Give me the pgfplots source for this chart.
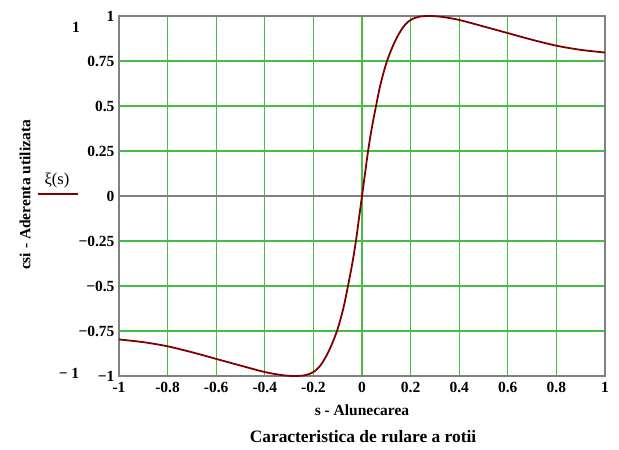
\documentclass[border=0pt]{standalone}
\usepackage{pgfplots}
\pgfplotsset{compat=1.18}
\usepackage{fontspec}
\setmainfont{Liberation Serif}
\definecolor{gridgreen}{RGB}{70,190,70}
\definecolor{framegray}{RGB}{128,128,128}
\definecolor{curvered}{RGB}{128,0,0}
\begin{document}
\begin{tikzpicture}
\useasboundingbox (0pt,0pt) rectangle (619pt,450pt);
\begin{axis}[
  at={(119pt,74pt)}, anchor=south west,
  scale only axis, width=486pt, height=360pt,
  xmin=-1, xmax=1, ymin=-1, ymax=1,
  xtick={-1,-0.8,-0.6,-0.4,-0.2,0,0.2,0.4,0.6,0.8,1},
  xticklabels={-1,-0.8,-0.6,-0.4,-0.2,0,0.2,0.4,0.6,0.8,1},
  ytick={-1,-0.75,-0.5,-0.25,0,0.25,0.5,0.75,1},
  yticklabels={−1,−0.75,−0.5,−0.25,0,0.25,0.5,0.75,1},
  extra y ticks={0}, extra y tick labels={},
  extra y tick style={grid style={framegray, line width=1.6pt}},
  major tick length=0pt,
  grid=major,
  grid style={gridgreen, line width=1.2pt},
  axis line style={framegray, line width=1.8pt},
  tick label style={font=\fontsize{15.5}{17}\selectfont\bfseries},
  xticklabel style={yshift=-3pt},
  yticklabel style={xshift=-1pt},
  clip=false,
]
\addplot[curvered, line width=1.8pt, smooth] coordinates {
(-1,-0.797) (-0.9,-0.812) (-0.8,-0.835) (-0.7,-0.868) (-0.6,-0.905)
(-0.5,-0.942) (-0.4,-0.978) (-0.33,-0.995) (-0.28,-1.0) (-0.235,-0.996)
(-0.2,-0.978) (-0.17,-0.94) (-0.136,-0.86) (-0.103,-0.75) (-0.077,-0.625)
(-0.057,-0.495) (-0.04,-0.375) (-0.025,-0.25) (-0.012,-0.12) (0,0)
(0.012,0.12) (0.025,0.25) (0.04,0.375) (0.057,0.495) (0.077,0.625)
(0.103,0.75) (0.136,0.86) (0.17,0.94) (0.2,0.978) (0.235,0.996)
(0.28,1.0) (0.33,0.995) (0.4,0.978) (0.5,0.942) (0.6,0.905)
(0.7,0.868) (0.8,0.835) (0.9,0.812) (1,0.797)
};
\end{axis}
\node[font=\fontsize{15.5}{17}\selectfont\bfseries] at (76pt,423pt) {1};
\node[font=\fontsize{15.5}{17}\selectfont\bfseries] at (69pt,77pt) {− 1};
\node[font=\fontsize{15.5}{17}\selectfont\bfseries] at (362pt,40pt) {s - Alunecarea};
\node[font=\fontsize{17.4}{20}\selectfont\bfseries] at (363pt,13pt) {Caracteristica de rulare a rotii};
\node[font=\fontsize{15.5}{17}\selectfont\bfseries, rotate=90] at (25pt,255pt) {csi - Aderenta utilizata};
\node[font=\fontsize{16.5}{18}\selectfont] at (57pt,270pt) {ξ(s)};
\draw[curvered, line width=1.6pt] (38pt,256pt) -- (78pt,256pt);
\end{tikzpicture}
\end{document}
